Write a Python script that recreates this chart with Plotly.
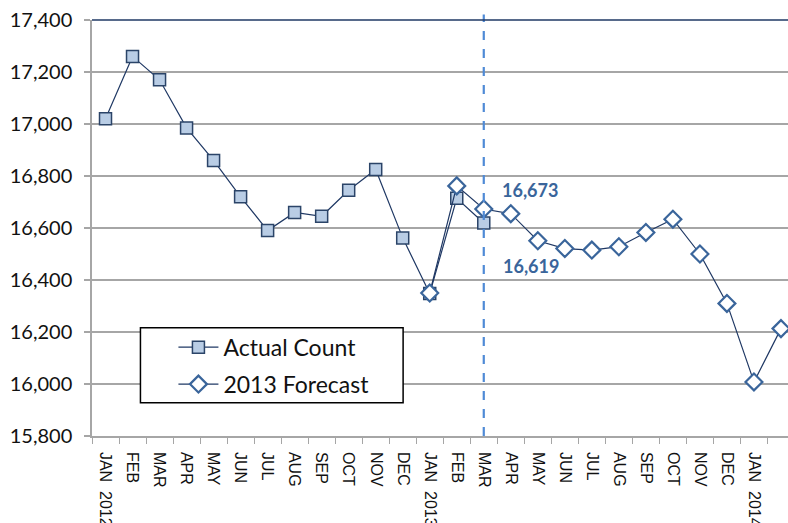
import plotly.graph_objects as go

months = ["JAN  2012", "FEB", "MAR", "APR", "MAY", "JUN", "JUL", "AUG", "SEP", "OCT", "NOV", "DEC",
          "JAN  2013", "FEB", "MAR", "APR", "MAY", "JUN", "JUL", "AUG", "SEP", "OCT", "NOV", "DEC",
          "JAN  2014", "FEB"]
actual_count = [17020, 17260, 17170, 16985, 16860, 16720, 16590, 16660, 16645, 16745, 16825, 16562,
                16348, 16714, 16619]
forecast_2013 = [16350, 16762, 16673, 16655, 16551, 16521, 16515, 16528, 16583, 16634, 16500, 16310,
                 16008, 16213]
forecast_start = 12
divider_index = 14
y_ticks = [15800, 16000, 16200, 16400, 16600, 16800, 17000, 17200, 17400]

font_family = "Lato, 'Open Sans', sans-serif"
xs = list(range(len(months)))

fig = go.Figure()
fig.add_trace(go.Scatter(
    x=xs[:len(actual_count)], y=actual_count, mode="lines+markers", name="Actual Count",
    legendgroup="a",
    line=dict(color="#1F3864", width=1.2),
    marker=dict(symbol="square", size=12, color="#B9CDE5", line=dict(color="#2B4468", width=1.5)),
))
fig.add_trace(go.Scatter(
    x=xs[forecast_start:forecast_start + len(forecast_2013)], y=forecast_2013, mode="lines+markers",
    name="2013 Forecast", legendgroup="b",
    line=dict(color="#1F3864", width=1.2),
    marker=dict(symbol="diamond", size=13, color="white", line=dict(color="#3A659B", width=2.2)),
    cliponaxis=False,
))

# dashed divider at March 2013
fig.add_shape(type="line", xref="x", yref="paper", x0=divider_index, x1=divider_index,
              y0=0, y1=1.013, line=dict(color="#4F8AD6", width=2.2, dash="dash"))
# top border line
fig.add_shape(type="line", xref="paper", yref="paper", x0=0, x1=1, y0=1, y1=1,
              line=dict(color="#1F3864", width=1.5), layer="above")

fig.add_annotation(x=divider_index + 1.7, y=16748, xref="x", yref="y",
                   text="<b>16,673</b>", showarrow=False,
                   font=dict(family=font_family, size=18, color="#3A659B"))
fig.add_annotation(x=divider_index + 1.75, y=16452, xref="x", yref="y",
                   text="<b>16,619</b>", showarrow=False,
                   font=dict(family=font_family, size=18, color="#3A659B"))

# legend box
fig.add_shape(type="rect", xref="paper", yref="paper", x0=0.0696, x1=0.447, y0=0.08, y1=0.26,
              line=dict(color="black", width=1.5), fillcolor="white", layer="above")

fig.update_layout(
    width=788, height=523,
    margin=dict(l=92, r=0, t=20, b=87),
    plot_bgcolor="white", paper_bgcolor="white",
    font=dict(family=font_family, color="#1a1a1a"),
    showlegend=True,
    legend=dict(x=0.117, y=0.265, xanchor="left", yanchor="top", bgcolor="rgba(0,0,0,0)",
                borderwidth=0, font=dict(size=23, color="#111111"), tracegroupgap=4,
                itemwidth=40),
    xaxis=dict(
        range=[-0.5, 25.26], tickmode="array", tickvals=xs, ticktext=months,
        tickangle=90, tickfont=dict(size=16, family="'Liberation Sans', Arial, sans-serif", color="#111111"),
        ticks="outside", ticklen=11, tickcolor="rgba(0,0,0,0)", automargin=False,
        showgrid=False, zeroline=False, showline=True, linecolor="#A6A6A6", linewidth=1.5,
        minor=dict(tickmode="array", tickvals=[i - 0.5 for i in range(len(months) + 1)],
                   ticks="outside", ticklen=6, tickcolor="#A6A6A6", tickwidth=1.2, showgrid=False),
    ),
    yaxis=dict(
        range=[15800, 17400], tickmode="array", tickvals=y_ticks, tickformat=",",
        tickfont=dict(size=20, color="#111111"), automargin=False,
        ticks="outside", ticklen=6, tickcolor="#A6A6A6", tickwidth=1.5,
        ticklabelstandoff=8,
        showgrid=True, gridcolor="#A6A6A6", gridwidth=1.5,
        zeroline=False, showline=True, linecolor="#A6A6A6", linewidth=1.5,
    ),
)

fig.write_html("out.html", config={"displayModeBar": False},
               post_script="document.body.style.margin='0px';document.body.style.overflow='hidden';")
